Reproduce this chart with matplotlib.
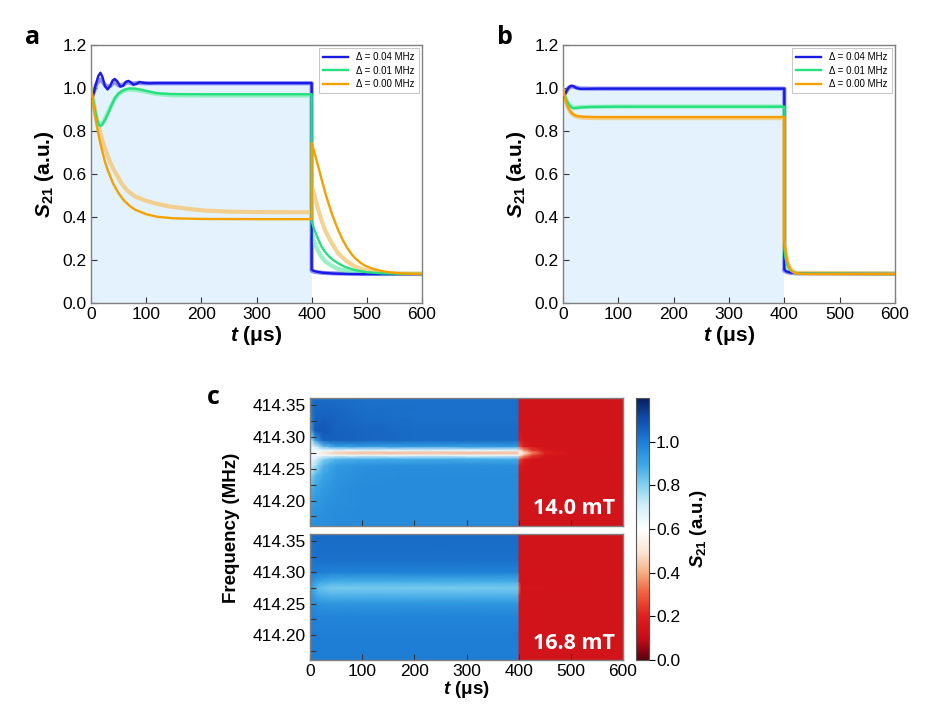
import numpy as np
import matplotlib
matplotlib.use('Agg')
import matplotlib.pyplot as plt
from matplotlib.colors import LinearSegmentedColormap
from matplotlib.ticker import MultipleLocator, FormatStrFormatter

plt.rcParams['font.family'] = ['Liberation Sans', 'DejaVu Sans']
plt.rcParams['mathtext.fontset'] = 'custom'
plt.rcParams['mathtext.rm'] = 'Liberation Sans'
plt.rcParams['mathtext.it'] = 'Liberation Sans:italic'
plt.rcParams['mathtext.bf'] = 'Liberation Sans:bold'
plt.rcParams['mathtext.bfit'] = 'Liberation Sans:bold:italic'

# ---------------- data: panel a ----------------
legend_labels = ['Δ = 0.04 MHz', 'Δ = 0.01 MHz', 'Δ = 0.00 MHz']

a_blue_fit_t = [0, 3, 8, 13, 17, 21, 25, 30, 35, 39, 43, 48, 53, 58, 63, 68, 73, 77, 83, 88, 95, 105,
                120, 150, 200, 300, 400, 400, 403, 410, 420, 440, 470, 520, 600]
a_blue_fit_s = [0.95, 0.955, 1.01, 1.055, 1.071, 1.05, 1.01, 0.993, 1.01, 1.035, 1.042, 1.03, 1.006,
                1.01, 1.028, 1.033, 1.025, 1.015, 1.02, 1.028, 1.024, 1.022, 1.023, 1.023, 1.023,
                1.023, 1.023, 0.155, 0.150, 0.145, 0.141, 0.137, 0.135, 0.134, 0.134]
a_blue_dat_t = [0, 5, 10, 17, 22, 28, 35, 42, 50, 58, 66, 75, 85, 100, 150, 200, 300, 400, 400, 405,
                420, 450, 500, 600]
a_blue_dat_s = [0.96, 0.98, 1.02, 1.04, 1.025, 1.005, 1.01, 1.03, 1.012, 1.015, 1.028, 1.02, 1.024,
                1.022, 1.022, 1.022, 1.022, 1.022, 0.15, 0.145, 0.14, 0.137, 0.135, 0.135]

a_green_fit_t = [0, 3, 7, 11, 14, 17, 20, 25, 31, 37, 43, 50, 56, 63, 70, 80, 91, 103, 115, 130, 146,
                 200, 300, 400, 400, 405, 412, 418, 424, 432, 440, 448, 460, 479, 500, 530, 560, 600]
a_green_fit_s = [1.0, 0.96, 0.90, 0.853, 0.83, 0.823, 0.828, 0.85, 0.882, 0.918, 0.952, 0.975, 0.986,
                 0.994, 0.998, 0.997, 0.992, 0.985, 0.978, 0.974, 0.972, 0.971, 0.971, 0.971, 0.38,
                 0.34, 0.295, 0.262, 0.239, 0.215, 0.198, 0.185, 0.168, 0.153, 0.143, 0.138, 0.136,
                 0.135]
a_green_dat_t = [0, 4, 8, 12, 17, 22, 28, 35, 42, 50, 60, 70, 85, 100, 120, 150, 200, 300, 400, 400,
                 405, 411, 418, 424, 435, 448, 465, 479, 500, 530, 600]
a_green_dat_s = [0.99, 0.93, 0.875, 0.84, 0.83, 0.84, 0.87, 0.91, 0.945, 0.972, 0.988, 0.993, 0.99,
                 0.982, 0.972, 0.966, 0.965, 0.965, 0.965, 0.33, 0.28, 0.245, 0.215, 0.195, 0.175,
                 0.158, 0.148, 0.143, 0.139, 0.136, 0.135]

a_orange_fit_t = [0, 5, 10, 15, 20, 25, 30, 40, 50, 60, 70, 80, 100, 120, 150, 200, 300, 400, 400,
                  406, 412, 418, 424, 430, 436, 442, 448, 456, 464, 472, 479, 488, 498, 509, 525, 540,
                  560, 580, 600]
a_orange_fit_s = [1.0, 0.91, 0.83, 0.765, 0.71, 0.66, 0.62, 0.556, 0.51, 0.476, 0.452, 0.434, 0.413,
                  0.401, 0.394, 0.391, 0.39, 0.39, 0.745, 0.69, 0.634, 0.575, 0.518, 0.468, 0.42,
                  0.378, 0.34, 0.295, 0.258, 0.228, 0.208, 0.188, 0.172, 0.161, 0.15, 0.143, 0.138,
                  0.136, 0.135]
a_orange_dat_t = [0, 5, 10, 16, 22, 28, 34, 40, 48, 55, 65, 80, 100, 115, 140, 176, 206, 250, 300,
                  400, 400, 406, 412, 418, 424, 436, 448, 463, 479, 494, 509, 530, 560, 600]
a_orange_dat_s = [1.0, 0.93, 0.86, 0.8, 0.745, 0.70, 0.66, 0.625, 0.59, 0.557, 0.525, 0.495, 0.475,
                  0.464, 0.45, 0.438, 0.43, 0.425, 0.423, 0.422, 0.549, 0.49, 0.433, 0.383, 0.34,
                  0.28, 0.231, 0.195, 0.169, 0.155, 0.146, 0.14, 0.137, 0.136]

# ---------------- data: panel b ----------------
b_blue_fit_t = [0, 3, 7, 11, 15, 19, 24, 30, 40, 60, 100, 200, 300, 400, 400, 403, 410, 420, 440, 600]
b_blue_fit_s = [0.96, 0.965, 0.99, 1.005, 1.01, 1.008, 1.0, 0.996, 0.996, 0.997, 0.997, 0.997, 0.997,
                0.997, 0.155, 0.148, 0.142, 0.139, 0.136, 0.135]
b_blue_dat_t = [0, 5, 10, 15, 20, 30, 50, 100, 200, 300, 400, 400, 405, 420, 600]
b_blue_dat_s = [0.97, 0.98, 1.0, 1.008, 1.005, 0.998, 0.997, 0.997, 0.997, 0.997, 0.997, 0.15,
                0.143, 0.138, 0.136]

b_green_fit_t = [0, 3, 6, 10, 14, 18, 22, 28, 35, 50, 100, 200, 300, 400, 400, 402, 405, 410, 415,
                 420, 430, 600]
b_green_fit_s = [0.985, 0.965, 0.945, 0.925, 0.912, 0.906, 0.906, 0.908, 0.91, 0.912, 0.913, 0.913,
                 0.913, 0.913, 0.25, 0.21, 0.18, 0.155, 0.145, 0.14, 0.137, 0.135]
b_green_dat_t = [0, 4, 8, 12, 18, 25, 40, 100, 200, 300, 400, 400, 403, 410, 420, 600]
b_green_dat_s = [0.98, 0.955, 0.935, 0.92, 0.91, 0.91, 0.912, 0.914, 0.914, 0.914, 0.914, 0.22,
                 0.18, 0.152, 0.14, 0.137]

b_orange_fit_t = [0, 3, 6, 10, 15, 20, 25, 30, 40, 60, 100, 200, 300, 400, 400, 401, 403, 406, 409,
                  413, 418, 425, 440, 600]
b_orange_fit_s = [1.0, 0.96, 0.93, 0.905, 0.885, 0.875, 0.87, 0.868, 0.866, 0.865, 0.865, 0.865,
                  0.865, 0.865, 0.3, 0.27, 0.225, 0.19, 0.165, 0.15, 0.14, 0.137, 0.135, 0.135]
b_orange_dat_t = [0, 4, 8, 12, 18, 25, 35, 60, 100, 200, 300, 400, 400, 402, 406, 412, 420, 600]
b_orange_dat_s = [0.99, 0.95, 0.915, 0.893, 0.876, 0.866, 0.862, 0.86, 0.86, 0.86, 0.86, 0.86, 0.28,
                  0.24, 0.185, 0.155, 0.14, 0.137]

# ---------------- data: panel c (heat maps, read on a coarse grid) ----------------
c_times_top = [0, 4, 10, 25, 50, 100, 200, 399, 401, 410, 425, 450, 500, 600]
c_freqs_top = [414.16, 414.19, 414.22, 414.24, 414.255, 414.265, 414.271, 414.275, 414.279, 414.285,
               414.295, 414.31, 414.33, 414.36]
c_vals_top = [
    [0.92, 0.95, 0.96, 0.96, 0.97, 0.97, 0.97, 0.97, 0.14, 0.14, 0.14, 0.14, 0.14, 0.14],
    [0.90, 0.93, 0.94, 0.95, 0.96, 0.97, 0.97, 0.97, 0.14, 0.14, 0.14, 0.14, 0.14, 0.14],
    [0.85, 0.88, 0.90, 0.93, 0.95, 0.97, 0.97, 0.97, 0.14, 0.14, 0.14, 0.14, 0.14, 0.14],
    [0.76, 0.80, 0.85, 0.90, 0.94, 0.96, 0.97, 0.97, 0.145, 0.14, 0.14, 0.14, 0.14, 0.14],
    [0.70, 0.71, 0.75, 0.87, 0.93, 0.95, 0.96, 0.96, 0.17, 0.15, 0.14, 0.14, 0.14, 0.14],
    [0.66, 0.66, 0.68, 0.80, 0.87, 0.89, 0.89, 0.89, 0.28, 0.19, 0.15, 0.14, 0.14, 0.14],
    [0.65, 0.65, 0.64, 0.65, 0.66, 0.66, 0.66, 0.66, 0.52, 0.38, 0.25, 0.16, 0.14, 0.14],
    [0.65, 0.64, 0.60, 0.52, 0.45, 0.42, 0.42, 0.42, 0.60, 0.50, 0.36, 0.20, 0.15, 0.14],
    [0.65, 0.65, 0.64, 0.65, 0.66, 0.66, 0.66, 0.66, 0.52, 0.38, 0.25, 0.16, 0.14, 0.14],
    [0.66, 0.66, 0.70, 0.84, 0.91, 0.92, 0.92, 0.92, 0.28, 0.19, 0.15, 0.14, 0.14, 0.14],
    [0.72, 0.78, 0.92, 1.05, 1.06, 1.05, 1.04, 1.04, 0.17, 0.15, 0.14, 0.14, 0.14, 0.14],
    [0.85, 0.95, 1.07, 1.08, 1.06, 1.05, 1.04, 1.04, 0.145, 0.14, 0.14, 0.14, 0.14, 0.14],
    [0.95, 1.00, 1.05, 1.06, 1.05, 1.04, 1.03, 1.03, 0.14, 0.14, 0.14, 0.14, 0.14, 0.14],
    [1.00, 1.02, 1.04, 1.04, 1.04, 1.03, 1.03, 1.03, 0.14, 0.14, 0.14, 0.14, 0.14, 0.14],
]

c_times_bot = [0, 5, 15, 40, 100, 399, 401, 405, 600]
c_freqs_bot = [414.16, 414.20, 414.23, 414.25, 414.265, 414.275, 414.285, 414.30, 414.32, 414.36]
c_vals_bot = [
    [0.98, 1.00, 1.00, 1.00, 1.00, 1.00, 0.14, 0.14, 0.14],
    [0.98, 1.00, 1.00, 1.00, 1.00, 1.00, 0.14, 0.14, 0.14],
    [0.97, 0.99, 0.98, 0.98, 0.98, 0.98, 0.14, 0.14, 0.14],
    [0.96, 0.97, 0.95, 0.94, 0.94, 0.94, 0.15, 0.14, 0.14],
    [0.94, 0.92, 0.88, 0.86, 0.86, 0.86, 0.22, 0.14, 0.14],
    [0.93, 0.90, 0.85, 0.82, 0.82, 0.82, 0.30, 0.15, 0.14],
    [0.95, 0.94, 0.90, 0.88, 0.88, 0.88, 0.20, 0.14, 0.14],
    [0.97, 1.00, 1.00, 0.99, 0.99, 0.99, 0.15, 0.14, 0.14],
    [0.98, 1.02, 1.03, 1.03, 1.03, 1.03, 0.14, 0.14, 0.14],
    [1.00, 1.03, 1.04, 1.04, 1.04, 1.04, 0.14, 0.14, 0.14],
]
c_field_labels = ['14.0 mT', '16.8 mT']

cbar_ticks = [0.0, 0.2, 0.4, 0.6, 0.8, 1.0]
line_ticks_x = [0, 100, 200, 300, 400, 500, 600]
line_ticks_y = [0.0, 0.2, 0.4, 0.6, 0.8, 1.0, 1.2]

# ---------------- styles ----------------
FIT = ['#1a1ae6', '#26e07f', '#f5a000']
DAT = ['#7b7bf2', '#84f0b8', '#f6c97c']
SHADE = '#e3f2fc'
FRAME = '#808080'

cmap = LinearSegmentedColormap.from_list('s21', list(zip(
    [0.0, 0.1 / 1.2, 0.2 / 1.2, 0.3 / 1.2, 0.4 / 1.2, 0.5 / 1.2, 0.6 / 1.2, 0.7 / 1.2, 0.8 / 1.2,
     0.9 / 1.2, 1.0 / 1.2, 1.1 / 1.2, 1.0],
    ['#5c0010', '#c80c18', '#e0201e', '#ee5c3c', '#f7ae82', '#fde6d6', '#ffffff', '#d6f0fa',
     '#84d2f0', '#3aa6e6', '#1e7fd6', '#114fae', '#08205e'])))

S_LABEL = r'$\mathbfit{S}_{\mathbf{21}}$ (a.u.)'
T_LABEL = r'$\mathbfit{t}$ (μs)'

fig = plt.figure(figsize=(9.26, 7.27), dpi=100)

ax_a = fig.add_axes([0.0983, 0.5832, 0.3574, 0.3549])
ax_b = fig.add_axes([0.608, 0.5832, 0.3585, 0.3549])


def style_line_axes(ax, fill_top):
    ax.fill_between([0, 400], [0, 0], [fill_top, fill_top], color=SHADE, lw=0, zorder=0)
    ax.set_xlim(0, 600)
    ax.set_ylim(0, 1.2)
    ax.set_xticks(line_ticks_x)
    ax.set_yticks(line_ticks_y)
    ax.yaxis.set_major_formatter(FormatStrFormatter('%.1f'))
    ax.tick_params(direction='in', length=4, width=0.8, labelsize=12.5, color='#333333', pad=3)
    for sp in ax.spines.values():
        sp.set_color(FRAME)
        sp.set_linewidth(1.0)
    ax.set_xlabel(T_LABEL, fontsize=15, fontweight='bold', labelpad=1)
    ax.set_ylabel(S_LABEL, fontsize=15, fontweight='bold', labelpad=5)


def draw_panel(ax, dat, fit, fill_top):
    style_line_axes(ax, fill_top)
    for (t, s), c in zip(dat, DAT):
        ax.plot(t, s, color=c, lw=3.0, alpha=0.85, solid_joinstyle='round', zorder=2)
    handles = []
    for (t, s), c, lab in zip(fit, FIT, legend_labels):
        h, = ax.plot(t, s, color=c, lw=1.7, zorder=3, label=lab)
        handles.append(h)
    leg = ax.legend(handles=handles, loc='upper right', fontsize=7, frameon=True, fancybox=False,
                    handlelength=2.6, borderpad=0.4, labelspacing=0.35, borderaxespad=0.35)
    leg.get_frame().set_edgecolor('#bbbbbb')
    leg.get_frame().set_linewidth(0.8)


draw_panel(ax_a,
           [(a_blue_dat_t, a_blue_dat_s), (a_green_dat_t, a_green_dat_s), (a_orange_dat_t, a_orange_dat_s)],
           [(a_blue_fit_t, a_blue_fit_s), (a_green_fit_t, a_green_fit_s), (a_orange_fit_t, a_orange_fit_s)],
           1.02)
draw_panel(ax_b,
           [(b_blue_dat_t, b_blue_dat_s), (b_green_dat_t, b_green_dat_s), (b_orange_dat_t, b_orange_dat_s)],
           [(b_blue_fit_t, b_blue_fit_s), (b_green_fit_t, b_green_fit_s), (b_orange_fit_t, b_orange_fit_s)],
           1.0)

# ---------------- panel c ----------------
ax_c1 = fig.add_axes([0.3348, 0.2765, 0.338, 0.176])
ax_c2 = fig.add_axes([0.3348, 0.0922, 0.338, 0.1733])
cax = fig.add_axes([0.6868, 0.0922, 0.014, 0.3603])

mesh = None
for ax, tt, ff, vv, lab in [(ax_c1, c_times_top, c_freqs_top, c_vals_top, c_field_labels[0]),
                            (ax_c2, c_times_bot, c_freqs_bot, c_vals_bot, c_field_labels[1])]:
    T, F = np.meshgrid(tt, ff)
    mesh = ax.pcolormesh(T, F, np.array(vv), shading='gouraud', cmap=cmap, vmin=0, vmax=1.2,
                         rasterized=True)
    ax.set_xlim(0, 600)
    ax.set_ylim(414.16, 414.361)
    ax.set_xticks(line_ticks_x)
    ax.yaxis.set_major_locator(MultipleLocator(0.05))
    ax.yaxis.set_minor_locator(MultipleLocator(0.025))
    ax.yaxis.set_major_formatter(FormatStrFormatter('%.2f'))
    ax.tick_params(which='both', direction='in', length=4, width=0.8, labelsize=12.5,
                   color='#333333', pad=3)
    for sp in ax.spines.values():
        sp.set_color(FRAME)
        sp.set_linewidth(1.0)
    ax.text(0.975, 0.09, lab, transform=ax.transAxes, ha='right', va='baseline', color='white',
            fontsize=15.5, fontweight='bold', family=['Open Sans', 'DejaVu Sans'])

ax_c1.tick_params(axis='x', labelbottom=False)
ax_c2.set_xlabel(T_LABEL, fontsize=13.5, fontweight='bold', labelpad=0)

fig.text(232 / 926, 1 - 528 / 727, 'Frequency (MHz)', rotation=90, ha='center', va='center',
         fontsize=13.5, fontweight='bold')

cb = fig.colorbar(mesh, cax=cax, ticks=cbar_ticks)
cb.ax.yaxis.set_major_formatter(FormatStrFormatter('%.1f'))
cb.ax.tick_params(labelsize=12.5, length=4, width=0.8, direction='out', pad=1)
cb.outline.set_edgecolor('#555555')
cb.outline.set_linewidth(0.8)
cb.set_label(S_LABEL, fontsize=13.5, fontweight='bold', labelpad=6)

# panel letters
for x, y, s in [(33, 37, 'a'), (505, 37, 'b'), (213, 397, 'c')]:
    fig.text(x / 926, 1 - y / 727, s, ha='center', va='center', fontsize=18, fontweight='bold',
             family=['Open Sans', 'DejaVu Sans'])

fig.savefig('out.png', dpi=100)
